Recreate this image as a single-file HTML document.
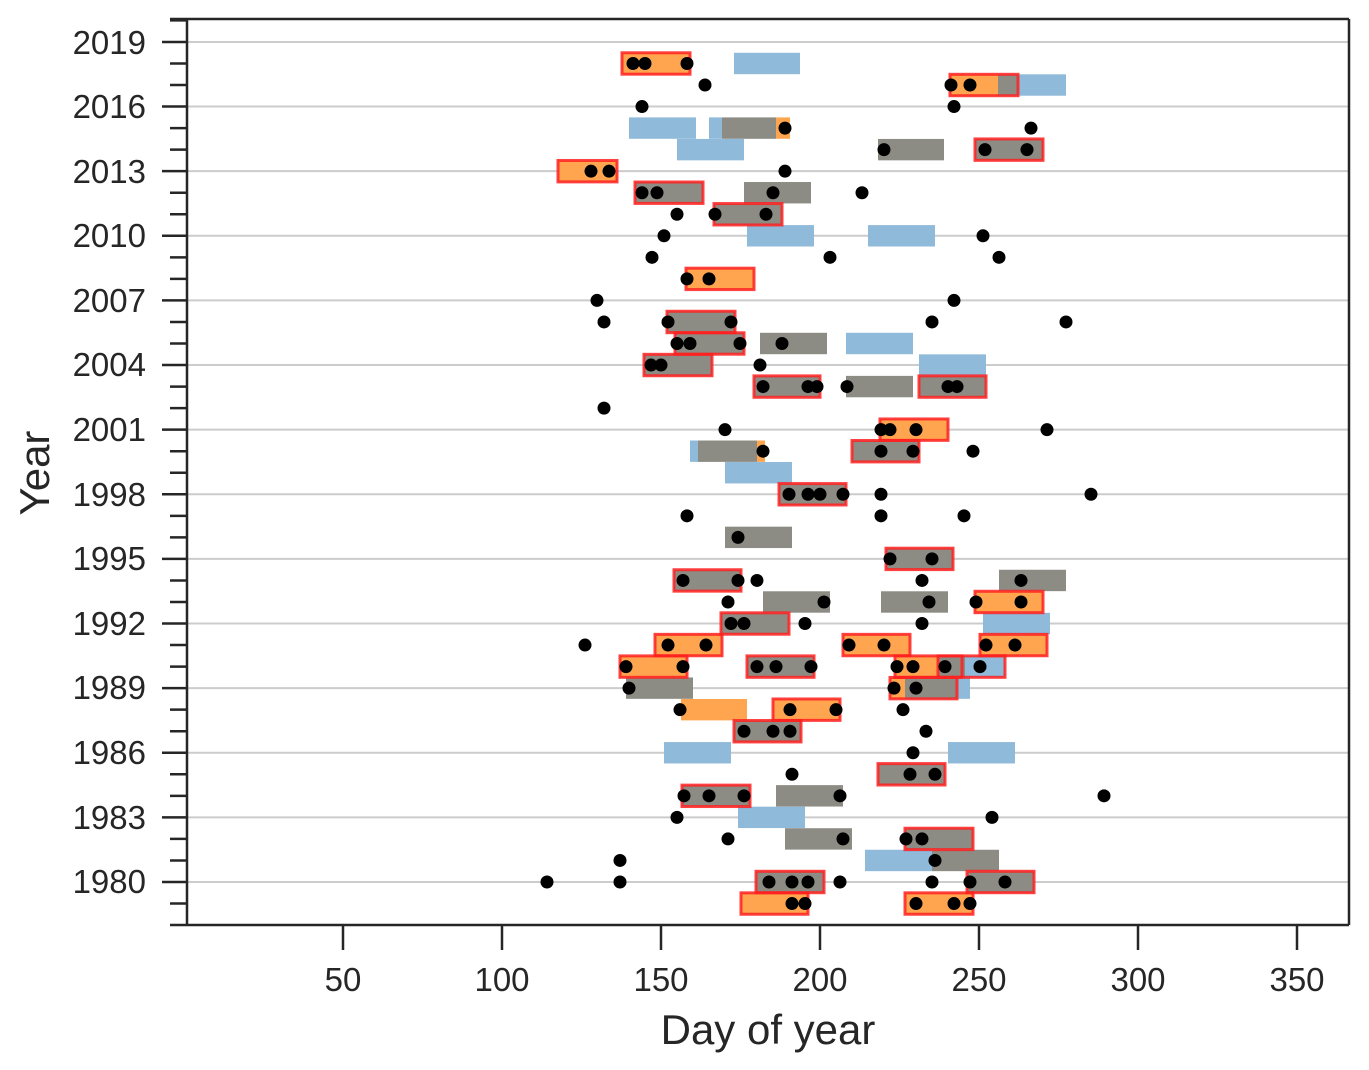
<!DOCTYPE html>
<html><head><meta charset="utf-8"><style>
html,body{margin:0;padding:0;background:#fff}
svg{display:block}
text{font-family:"Liberation Sans",Arial,sans-serif;fill:#262626}
</style></head><body>
<svg id="s" width="1369" height="1070" xmlns="http://www.w3.org/2000/svg">
<rect width="1369" height="1070" fill="#fff"/>
<g id="grid"></g>
<g id="data"></g>
<g stroke="#262626" stroke-width="2.5" fill="none">
<line x1="170" y1="19" x2="1349" y2="19"/>
<line x1="170" y1="925" x2="1349" y2="925"/>
<line x1="187" y1="19" x2="187" y2="925"/>
<line x1="1349" y1="19" x2="1349" y2="925"/>
</g>
<g id="ticks" stroke="#262626" stroke-width="2.5"></g>
<g font-size="33" text-anchor="end">
<text x="146" y="54">2019</text>
<text x="146" y="118">2016</text>
<text x="146" y="183">2013</text>
<text x="146" y="247">2010</text>
<text x="146" y="312">2007</text>
<text x="146" y="376">2004</text>
<text x="146" y="441">2001</text>
<text x="146" y="506">1998</text>
<text x="146" y="570">1995</text>
<text x="146" y="635">1992</text>
<text x="146" y="699">1989</text>
<text x="146" y="764">1986</text>
<text x="146" y="829">1983</text>
<text x="146" y="893">1980</text>
</g>
<g font-size="33" text-anchor="middle">
<text x="343" y="991">50</text>
<text x="502" y="991">100</text>
<text x="661" y="991">150</text>
<text x="820" y="991">200</text>
<text x="979" y="991">250</text>
<text x="1138" y="991">300</text>
<text x="1297" y="991">350</text>
</g>
<text x="768" y="1044" font-size="42" text-anchor="middle">Day of year</text>
<text transform="translate(49,473) rotate(-90)" font-size="42" text-anchor="middle">Year</text>
</svg>
<script>
var NS="http://www.w3.org/2000/svg";
function el(p,t,a){var e=document.createElementNS(NS,t);for(var k in a)e.setAttribute(k,a[k]);p.appendChild(e);return e;}
function cy(y){return 882-(y-1980)*21.54;}
var grid=document.getElementById('grid'),ticks=document.getElementById('ticks'),data=document.getElementById('data');
for(var y=1979;y<=2020;y++){var c=cy(y);if(c<19||c>925)continue;
 var major=(y-1980)%3==0;
 el(ticks,'line',{x1:major?162:170,x2:187,y1:c,y2:c});
 if(major)el(grid,'line',{x1:187,x2:1349,y1:c,y2:c,stroke:'#cccccc','stroke-width':2});}
[343,502,661,820,979,1138,1297].forEach(function(x){el(ticks,'line',{x1:x,x2:x,y1:925,y2:950});});
var R={
2018:[['o',622,690],['r',622,690],['b',734,800],633,645,687],
2017:[['o',950,998],['g',998,1018],['b',1018,1066],['r',950,1018],705,951,970],
2016:[642,954],
2015:[['b',629,696],['b',709,722],['g',722,776],['o',776,790],785,1031],
2014:[['b',677,744],['g',878,944],['g',975,1043],['r',975,1043],884,985,1027],
2013:[['o',558,617],['r',558,617],591,609,785],
2012:[['g',635,703],['r',635,703],['g',744,811],642,657,773,862],
2011:[['g',714,782],['r',714,782],677,715,766],
2010:[['b',747,814],['b',868,935],664,983],
2009:[652,830,999],
2008:[['o',686,754],['r',686,754],687,709],
2007:[597,954],
2006:[['g',667,735],['r',667,735],604,668,731,932,1066],
2005:[['g',675,744],['r',675,744],['g',760,827],['b',846,913],677,690,740,782],
2004:[['g',644,712],['r',644,712],['b',919,986],651,661,760],
2003:[['g',754,820],['r',754,820],['g',846,913],['g',919,986],['r',919,986],763,808,817,847,948,957],
2002:[604],
2001:[['o',880,948],['r',880,948],725,881,890,916,1047],
2000:[['b',690,698],['g',698,757],['o',757,765],['g',852,919],['r',852,919],763,881,913,973],
1999:[['b',725,792]],
1998:[['g',779,846],['r',779,846],789,808,820,843,881,1091],
1997:[687,881,964],
1996:[['g',725,792],738],
1995:[['g',886,953],['r',886,953],890,932],
1994:[['g',674,741],['r',674,741],['g',999,1066],683,738,757,922,1021],
1993:[['g',763,830],['g',881,948],['o',975,1043],['r',975,1043],728,824,929,976,1021],
1992:[['g',721,789],['r',721,789],['b',983,1050],731,744,805,922],
1991:[['o',655,722],['r',655,722],['o',843,910],['r',843,910],['o',980,1047],['r',980,1047],585,668,706,849,884,986,1015],
1990:[['o',620,687],['r',620,687],['g',747,814],['r',747,814],['o',895,938],['g',938,965],['b',965,1005],['r',895,962],['r',938,1005],626,683,757,776,811,897,913,945,980],
1989:[['g',626,693],['o',890,905],['g',905,957],['b',957,970],['r',890,957],629,894,916],
1988:[['o',681,747],['o',773,840],['r',773,840],680,790,836,903],
1987:[['g',734,801],['r',734,801],744,773,790,926],
1986:[['b',664,731],['b',948,1015],913],
1985:[['g',878,945],['r',878,945],792,910,935],
1984:[['g',682,750],['r',682,750],['g',776,843],684,709,744,840,1104],
1983:[['b',738,805],677,992],
1982:[['g',785,852],['g',905,973],['r',905,973],728,843,906,922],
1981:[['b',865,932],['g',932,999],620,935],
1980:[['g',756,824],['r',756,824],['g',967,1034],['r',967,1034],547,620,769,792,808,840,932,970,1005],
1979:[['o',741,808],['r',741,808],['o',905,973],['r',905,973],792,805,916,954,970]
};
var col={b:'#8fbad9',g:'#8c8c84',o:'#ffa54f'};
var L={b:[],g:[],o:[],r:[],d:[]};
for(var k in R){var c=cy(+k);R[k].forEach(function(it){
 if(typeof it==='number')L.d.push([it,c]);else L[it[0]].push([it[1],it[2],c]);});}
['b','g','o'].forEach(function(t){L[t].forEach(function(a){el(data,'rect',{x:a[0],y:a[2]-10.7,width:a[1]-a[0],height:21.4,fill:col[t]});});});
L.r.forEach(function(a){el(data,'rect',{x:a[0],y:a[2]-10.7,width:a[1]-a[0],height:21.4,fill:'none',stroke:'#ff2020','stroke-width':3,'stroke-opacity':0.85});});
L.d.forEach(function(a){el(data,'circle',{cx:a[0],cy:a[1],r:6.5,fill:'#000'});});
</script>
</body></html>
